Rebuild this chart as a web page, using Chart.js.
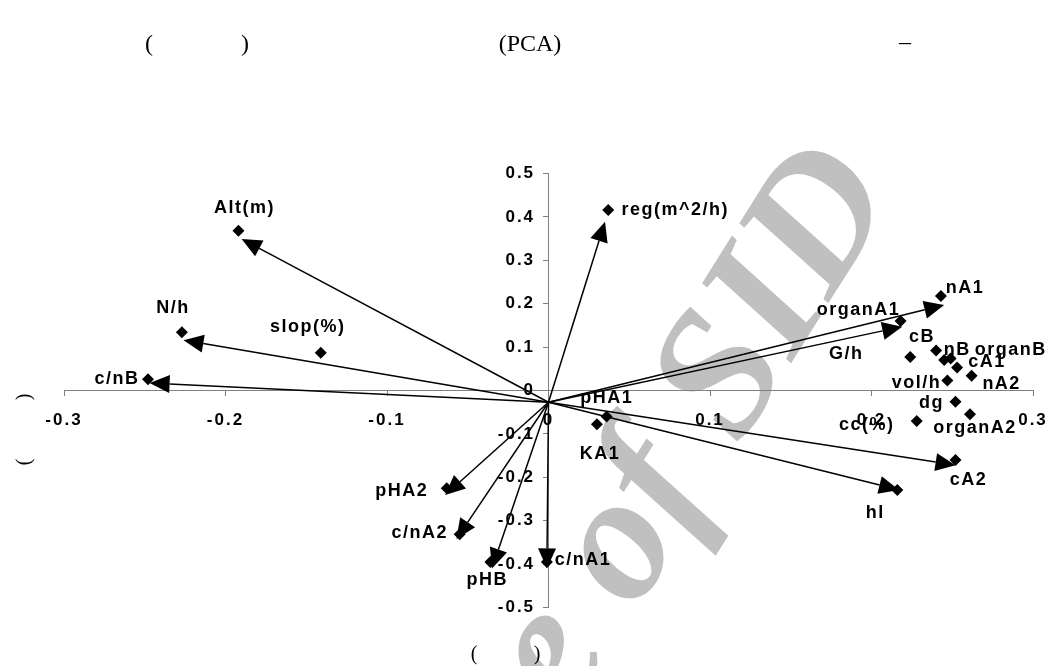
<!DOCTYPE html>
<html>
<head>
<meta charset="utf-8">
<script src="https://cdn.jsdelivr.net/npm/chart.js@4.4.0/dist/chart.umd.min.js"></script>
<style>
  html, body { margin: 0; padding: 0; background: #fff; }
</style>
</head>
<body>
<canvas id="pcaChart" width="1062" height="666"></canvas>
<script>
// Variable loadings (PC1, PC2), shown as diamonds
const varNames = ['Alt(m)', 'N/h', 'slop(%)', 'c/nB', 'reg(m^2/h)', 'nA1', 'organA1', 'cB', 'G/h',
  'nB', 'organB', 'cA1', 'nA2', 'vol/h', 'dg', 'cc(%)', 'organA2', 'cA2', 'hl',
  'pHA1', 'KA1', 'pHA2', 'c/nA2', 'pHB', 'c/nA1'];
const pc1 = [-0.192, -0.227, -0.141, -0.248, 0.037, 0.243, 0.218, 0.240, 0.224,
  0.245, 0.249, 0.253, 0.262, 0.247, 0.252, 0.228, 0.261, 0.252, 0.216,
  0.036, 0.030, -0.063, -0.055, -0.036, -0.001];
const pc2 = [0.368, 0.134, 0.087, 0.026, 0.416, 0.218, 0.160, 0.092, 0.077,
  0.070, 0.074, 0.053, 0.034, 0.023, -0.026, -0.070, -0.055, -0.160, -0.229,
  -0.060, -0.078, -0.225, -0.331, -0.395, -0.395];

// Arrows drawn from a common start to these ends
const arrowStart = [0, -0.027];
const arrowNames = ['Alt(m)', 'N/h', 'c/nB', 'reg(m^2/h)', 'nA1', 'organA1', 'cA2', 'hl',
  'pHA2', 'c/nA2', 'pHB', 'c/nA1'];
const arrowPc1 = [-0.190, -0.226, -0.247, 0.035, 0.245, 0.219, 0.252, 0.217,
  -0.064, -0.057, -0.035, -0.001];
const arrowPc2 = [0.349, 0.116, 0.017, 0.389, 0.197, 0.147, -0.172, -0.229,
  -0.241, -0.342, -0.410, -0.410];

const xTickValues = [-0.3, -0.2, -0.1, 0, 0.1, 0.2, 0.3];
const yTickValues = [-0.5, -0.4, -0.3, -0.2, -0.1, 0, 0.1, 0.2, 0.3, 0.4, 0.5];

// label placement around each diamond, in px
const labelOffsets = {
  'Alt(m)': [6, -23], 'N/h': [-9, -24], 'slop(%)': [-13, -26], 'c/nB': [-31, 0],
  'reg(m^2/h)': [67, 0], 'nA1': [24, -8], 'organA1': [-42, -11], 'cB': [-14, -14],
  'G/h': [-64, -3], 'nB': [13, -10], 'organB': [60, -8], 'cA1': [30, -5],
  'nA2': [30, 8], 'vol/h': [-31, 3], 'dg': [-24, 1], 'cc(%)': [-50, 4],
  'organA2': [5, 14], 'cA2': [13, 20], 'hl': [-22, 23], 'pHA1': [0, -19],
  'KA1': [3, 30], 'pHA2': [-45, 3], 'c/nA2': [-40, -1], 'pHB': [-3, 18], 'c/nA1': [36, -2]
};

const tickFont = { family: 'Liberation Sans', weight: 'bold', size: 17 };
const fmt = v => String(Math.round(v * 10) / 10);

/* watermark behind everything, also sets the wide letter spacing */
const watermark = {
  id: 'watermark',
  beforeDraw(chart) {
    const ctx = chart.ctx;
    ctx.save();
    ctx.fillStyle = '#c0c0c0';
    ctx.font = 'bold italic 180px "Liberation Serif"';
    ctx.translate(898, 192);
    ctx.rotate(-58 * Math.PI / 180);
    ctx.textAlign = 'right';
    ctx.textBaseline = 'alphabetic';
    ctx.fillText('Archive of SID', 0, 0);
    ctx.restore();
    ctx.letterSpacing = '2px';
  },
  afterDraw(chart) {
    chart.ctx.letterSpacing = '0px';
  }
};

/* arrows from origin */
const arrows = {
  id: 'arrows',
  afterDatasetsDraw(chart) {
    const ctx = chart.ctx;
    const xs = chart.scales.x, ys = chart.scales.y;
    const x0 = xs.getPixelForValue(arrowStart[0]);
    const y0 = ys.getPixelForValue(arrowStart[1]);
    const len = 20, half = 9;
    ctx.save();
    ctx.strokeStyle = '#000';
    ctx.fillStyle = '#000';
    ctx.lineWidth = 1.5;
    arrowPc1.forEach((v, i) => {
      const x1 = xs.getPixelForValue(v);
      const y1 = ys.getPixelForValue(arrowPc2[i]);
      const a = Math.atan2(y1 - y0, x1 - x0);
      const bx = x1 - len * Math.cos(a), by = y1 - len * Math.sin(a);
      ctx.beginPath();
      ctx.moveTo(x0, y0);
      ctx.lineTo(bx, by);
      ctx.stroke();
      ctx.beginPath();
      ctx.moveTo(x1, y1);
      ctx.lineTo(bx + half * Math.sin(a), by - half * Math.cos(a));
      ctx.lineTo(bx - half * Math.sin(a), by + half * Math.cos(a));
      ctx.closePath();
      ctx.fill();
    });
    ctx.restore();
  }
};

/* names next to the diamonds */
const pointLabels = {
  id: 'pointLabels',
  afterDatasetsDraw(chart) {
    const ctx = chart.ctx;
    const meta = chart.getDatasetMeta(0);
    ctx.save();
    ctx.font = 'bold 18px "Liberation Sans"';
    ctx.letterSpacing = '1.5px';
    ctx.fillStyle = '#000';
    ctx.textAlign = 'center';
    ctx.textBaseline = 'middle';
    meta.data.forEach((pt, i) => {
      const off = labelOffsets[varNames[i]] || [0, -14];
      ctx.fillText(varNames[i], pt.x + off[0], pt.y + off[1]);
    });
    ctx.restore();
  }
};

/* title and axis captions (only the latin glyphs survive) */
const captions = {
  id: 'captions',
  afterDraw(chart) {
    const ctx = chart.ctx;
    ctx.save();
    ctx.letterSpacing = '0px';
    ctx.fillStyle = '#000';
    ctx.font = '24px "Liberation Serif"';
    ctx.textAlign = 'center';
    ctx.textBaseline = 'middle';
    ctx.fillText('(', 149, 45);
    ctx.fillText(')', 245, 45);
    ctx.fillText('(PCA)', 530, 45);
    ctx.fillText('\u2013', 905, 43);
    ctx.font = '20px "Liberation Serif"';
    ctx.fillText('(', 474, 655);
    ctx.fillText(')', 537, 655);
    ctx.translate(25, 430);
    ctx.rotate(-Math.PI / 2);
    ctx.fillText('(', -32, 0);
    ctx.fillText(')', 33, 0);
    ctx.restore();
  }
};

const config = {
  type: 'scatter',
  data: {
    datasets: [{
      data: pc1.map((v, i) => ({ x: v, y: pc2[i] })),
      pointStyle: 'rectRot',
      pointRadius: 6,
      pointHoverRadius: 6,
      backgroundColor: '#000',
      borderWidth: 0
    }]
  },
  options: {
    responsive: false,
    animation: false,
    layout: { padding: { left: 64, right: 29, top: 173.5, bottom: 58.5 } },
    plugins: { legend: { display: false }, tooltip: { enabled: false } },
    scales: {
      x: {
        type: 'linear', min: -0.3, max: 0.3,
        position: { y: 0 },
        afterBuildTicks: s => { s.ticks = xTickValues.map(v => ({ value: v })); },
        ticks: { font: tickFont, color: '#000', padding: 15, callback: v => fmt(v) },
        grid: { drawOnChartArea: false, drawTicks: true, tickLength: 5, color: '#808080' },
        border: { color: '#808080', width: 1 }
      },
      y: {
        type: 'linear', min: -0.5, max: 0.5,
        position: { x: 0 },
        afterBuildTicks: s => { s.ticks = yTickValues.map(v => ({ value: v })); },
        // centred axis puts labels flush on the line, trailing spaces push them off
        ticks: { font: tickFont, color: '#000', callback: v => fmt(v) + '  ' },
        grid: { drawOnChartArea: false, drawTicks: true, tickLength: 5, color: '#808080' },
        border: { color: '#808080', width: 1 }
      }
    }
  },
  plugins: [watermark, arrows, pointLabels, captions]
};

var pcaChart = new Chart(document.getElementById('pcaChart'), config);
</script>
</body>
</html>
